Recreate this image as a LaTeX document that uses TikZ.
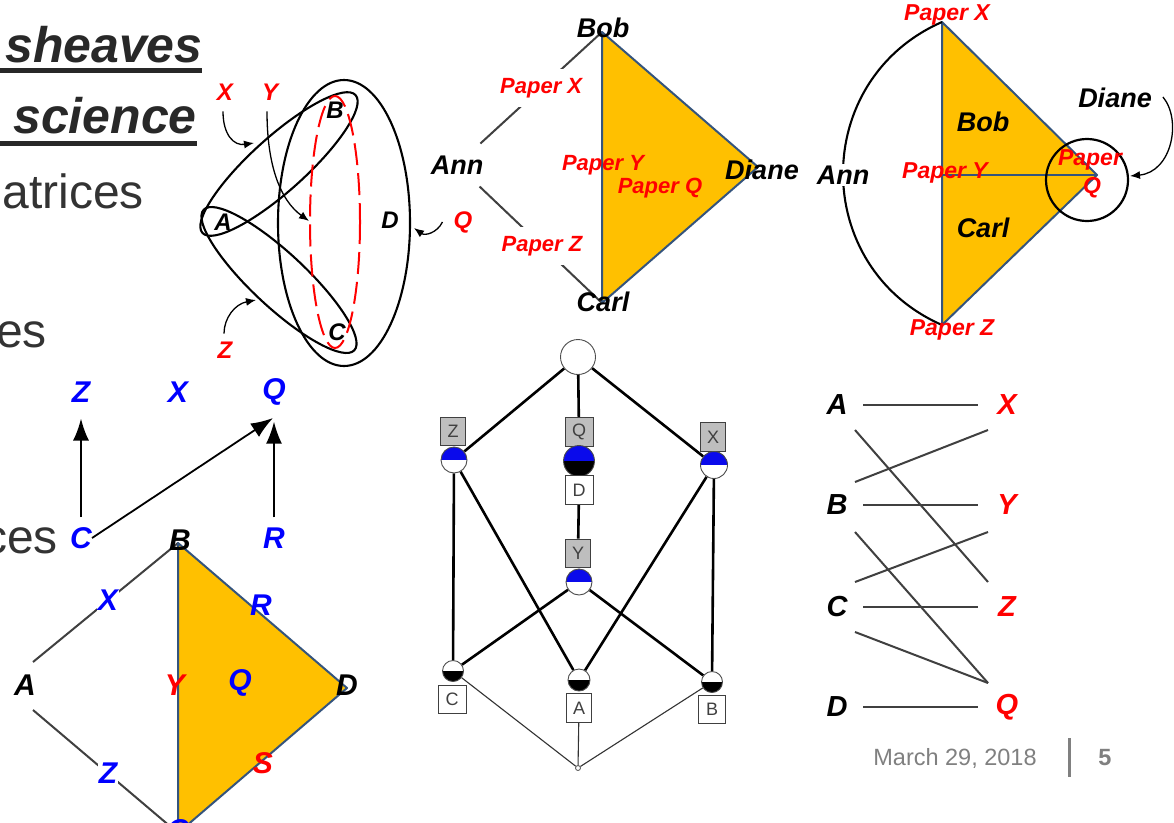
\documentclass[tikz,border=0pt]{standalone}
\usepackage{fontspec}
\setmainfont{Liberation Sans}
\usetikzlibrary{arrows.meta,calc}

\definecolor{inkgray}{RGB}{40,40,40}
\definecolor{bodygray}{RGB}{51,51,51}
\definecolor{orangefill}{RGB}{255,192,0}
\definecolor{edgeblue}{RGB}{52,84,125}
\definecolor{linegray}{RGB}{64,64,64}
\definecolor{pred}{RGB}{255,0,0}
\definecolor{pblue}{RGB}{0,0,255}
\definecolor{latblue}{RGB}{10,10,235}
\definecolor{boxgray}{RGB}{190,190,190}
\definecolor{footgray}{RGB}{128,128,128}

\newcommand{\fsz}[1]{\fontsize{#1}{#1}\selectfont}

\pgfdeclarelayer{background}
\pgfsetlayers{background,main}

\tikzset{
  titletext/.style={font=\fsz{50}\bfseries\itshape, text=inkgray, inner sep=0pt},
  bodytext/.style={font=\fsz{48}, text=bodygray, inner sep=0pt},
  hlab/.style={font=\fsz{24}\bfseries\itshape, inner sep=0pt},
  person/.style={font=\fsz{27}\bfseries\itshape, inner sep=0pt},
  paper/.style={font=\fsz{22}\bfseries\itshape, text=pred, inner sep=0pt},
  paperR/.style={font=\fsz{23}\bfseries\itshape, text=pred, inner sep=0pt},
  bluelab/.style={font=\fsz{30}\bfseries\itshape, text=pblue, inner sep=0pt},
  biplab/.style={font=\fsz{29}\bfseries\itshape, inner sep=0pt},
  hyp/.style={line width=2.1pt},
  tri/.style={fill=orangefill, draw=edgeblue, line width=2pt, line join=round},
  gline/.style={draw=linegray, line width=2pt},
  smallarrow/.style={-{Latex[length=10pt,width=8pt]}, line width=1.3pt},
  bigarrow/.style={-{Latex[length=22pt,width=16pt]}, line width=1.8pt},
  latbox/.style={draw=black!75, line width=0.9pt, minimum width=26pt, minimum height=28pt,
    inner sep=0pt, font=\fsz{18}, text=black!75},
  halfdisc/.style n args={3}{circle, inner sep=0pt, minimum size=#1, draw=black!70, line width=0.9pt,
    path picture={
      \fill[#2] (path picture bounding box.north west) rectangle (path picture bounding box.east);
      \fill[#3] (path picture bounding box.west) rectangle (path picture bounding box.south east);}},
  latedge/.style={line width=2.6pt},
  latthin/.style={line width=1.1pt, draw=black!80},
}

\begin{document}
\begin{tikzpicture}[x=1pt,y=-1pt]
\useasboundingbox (0,0) rectangle (1174,822);
\begin{pgfonlayer}{background}
  \fill[white] (0,0) rectangle (1174,822);
\end{pgfonlayer}
\clip (0,0) rectangle (1174,822);

% ---- slide text on the left ----
\node[titletext, anchor=base west] (tsheaves) at (5,62) {sheaves};
\draw[inkgray, line width=5pt] (0,70) -- (202,70);
\node[titletext, anchor=base west] (tscience) at (13,133) {science};
\draw[inkgray, line width=5pt] (0,143) -- (197,143);
\node[bodytext, anchor=base east] (tmat) at (144,208) {atrices};
\node[bodytext, anchor=base east] (tes) at (47,347) {es};
\node[bodytext, anchor=base east] (tces) at (58,553) {ces};

% ---- hypergraph ----
\draw[hyp] (344,223) ellipse[x radius=66, y radius=143];
\draw[hyp, rotate around={42:(279,164)}] (279,164) ellipse[x radius=103, y radius=27];
\draw[hyp, rotate around={-43:(279,280)}] (279,280) ellipse[x radius=103, y radius=27];
\draw[pred, line width=2pt, dash pattern=on 22pt off 8pt] (335,222) ellipse[x radius=25, y radius=126];
\node[hlab] (hA) at (223,222) {A};
\node[hlab] (hB) at (335,110) {B};
\node[hlab] (hC) at (337,332) {C};
\node[hlab] (hD) at (390,220) {D};
\node[hlab, text=pred] (hX) at (225,92) {X};
\node[hlab, text=pred] (hY) at (270,92) {Y};
\node[hlab, text=pred] (hZ) at (225,350) {Z};
\node[hlab, text=pred] (hQ) at (463,222) {Q};
\coordinate (hXtip) at (254,143);
\coordinate (hYtip) at (309,221);
\coordinate (hZtip) at (256,300);
\coordinate (hQtip) at (414,228);
\draw[smallarrow] (hX.south) ++(-2,11) .. controls (223,135) and (234,146) .. (hXtip);
\draw[smallarrow] (hY.south) ++(-3,11) .. controls (267,165) and (280,200) .. (hYtip);
\draw[smallarrow] (hZ.north) ++(-1,-8) .. controls (224,318) and (235,304) .. (hZtip);
\draw[smallarrow] (hQ.west) ++(-11,0) .. controls (437,233) and (425,236) .. (hQtip);

% ---- Ann / Bob / Carl / Diane complex ----
\coordinate (bobV) at (602,32);
\coordinate (carlV) at (602,303);
\coordinate (dianeV) at (758,167);
\node[person, inner ysep=12pt] (mAnn) at (457,165) {Ann};
\draw[gline] (mAnn) -- node[paper, fill=white, inner ysep=9pt, pos=0.5] (mPX) {Paper X} (bobV);
\draw[gline] (mAnn) -- node[paper, fill=white, inner ysep=9pt, pos=0.51] (mPZ) {Paper Z} (carlV);
\filldraw[tri] (bobV) -- (dianeV) -- (carlV) -- cycle;
\node[person] (mBob) at (603,28) {Bob};
\node[person] (mCarl) at (603,302) {Carl};
\node[person] (mDiane) at (762,170) {Diane};
\node[paper] (mPY) at (603,165) {Paper Y};
\node[paper] (mPQ) at (660,188) {Paper Q};

% ---- dual complex ----
\coordinate (dX) at (942,22);
\coordinate (dZ) at (942,325);
\coordinate (dQ) at (1097,175);
\coordinate (dY) at (942,175);
\filldraw[tri] (dX) -- (dQ) -- (dZ) -- cycle;
\draw[edgeblue, line width=2pt] (dY) -- (dQ);
% circular arc through Paper X, Ann and Paper Z
\draw[hyp] (dX) .. controls (810,80) and (810,267) .. (dZ);
\node[person, fill=white, inner sep=2pt] (dAnn) at (843,175) {Ann};
\draw[line width=2.2pt] (1087,180) circle[radius=41];
\node[paperR] (dPX) at (947,15) {Paper X};
\node[paperR] (dPY) at (945,173) {Paper Y};
\node[paperR] (dPZ) at (952,330) {Paper Z};
\node[person] (dBob) at (983,122) {Bob};
\node[person] (dCarl) at (983,228) {Carl};
\node[person] (dDiane) at (1115,98) {Diane};
\node[paperR] (dPQa) at (1090,160) {Paper};
\node[paperR] (dPQb) at (1092,188) {Q};
\coordinate (dTip) at (1130,176);
\draw[smallarrow] (dDiane.east) ++(11,-1) .. controls (1182,120) and (1172,172) .. (dTip);

% ---- arrows C, R to Z, Q ----
\node[bluelab] (lZ) at (81,392) {Z};
\node[bluelab] (lX) at (178,392) {X};
\node[bluelab] (lQ) at (274,392) {Q};
\node[bluelab] (lC) at (81,538) {C};
\node[bluelab] (lR) at (274,538) {R};
\coordinate (lQin) at (273,418);
\draw[bigarrow, shorten <=10pt, shorten >=16pt] (lC) -- (lZ);
\draw[bigarrow, shorten <=10pt, shorten >=16pt] (lR) -- (lQ);
\draw[bigarrow] (lC.east) -- (lQin);

% ---- lower complex ----
\coordinate (tB) at (178,543);
\coordinate (tD) at (347,688);
\coordinate (tC) at (178,833);
\coordinate (aUp) at (33,662);
\coordinate (aDn) at (33,710);
\draw[gline] (aUp) -- node[bluelab, fill=white, inner sep=1pt, pos=0.517] (eX) {X} (tB);
\draw[gline] (aDn) -- node[bluelab, fill=white, inner sep=1pt, pos=0.517] (eZ) {Z} (tC);
\filldraw[tri] (tB) -- (tD) -- (tC) -- cycle;
\node[bluelab, text=black] (vB) at (180,540) {B};
\node[bluelab, text=black] (vA) at (25,685) {A};
\node[bluelab, text=black] (vD) at (347,685) {D};
\node[bluelab] (vC) at (178,830) {C};
\node[bluelab, text=pred] (eY) at (175,685) {Y};
\node[bluelab] (fQ) at (240,683) {Q};
\node[bluelab] (eR) at (261,605) {R};
\node[bluelab, text=pred] (eS) at (263,763) {S};

% ---- concept lattice ----
\node[circle, draw=black!70, line width=0.9pt, fill=white, minimum size=35pt, inner sep=0pt] (kTop) at (578,357) {};
\node[latbox, fill=boxgray, minimum width=25pt] (kZb) at (453,431) {Z};
\node[halfdisc={26pt}{latblue}{white}] (kZ) at (454,460) {};
\node[latbox, fill=boxgray, minimum width=28pt, minimum height=29pt] (kQb) at (579,432) {Q};
\node[halfdisc={31pt}{latblue}{black}] (kQ) at (579,461) {};
\node[latbox, fill=white, minimum width=28pt, minimum height=29pt] (kDb) at (579,490) {D};
\node[latbox, fill=boxgray, minimum width=25pt, minimum height=29pt] (kXb) at (713,437) {X};
\node[halfdisc={27pt}{latblue}{white}] (kX) at (714,465) {};
\node[latbox, fill=boxgray, minimum width=25pt] (kYb) at (578,553) {Y};
\node[halfdisc={26pt}{latblue}{white}] (kY) at (579,582) {};
\node[halfdisc={21pt}{white}{black}] (kC) at (453,671) {};
\node[latbox, fill=white, minimum width=28pt] (kCb) at (452,699) {C};
\node[halfdisc={22pt}{white}{black}] (kA) at (579,680) {};
\node[latbox, fill=white, minimum width=25pt, minimum height=29pt] (kAb) at (579,708) {A};
\node[halfdisc={21pt}{white}{black}] (kB) at (712,682) {};
\node[latbox, fill=white, minimum width=27pt] (kBb) at (712,709) {B};
\node[circle, draw=black!70, line width=0.8pt, fill=white, minimum size=5pt, inner sep=0pt] (kBot) at (578,768) {};
\begin{pgfonlayer}{background}
  \draw[latedge] (kTop) -- (kZ);
  \draw[latedge] (kTop) -- (kQb);
  \draw[latedge] (kTop) -- (kX);
  \draw[latedge] (kDb) -- (kYb);
  \draw[latedge] (kZ) -- (kC);
  \draw[latedge] (kZ) -- (kA);
  \draw[latedge] (kX) -- (kA);
  \draw[latedge] (kX) -- (kB);
  \draw[latedge] (kY) -- (kC);
  \draw[latedge] (kY) -- (kB);
  \draw[latthin] (kC) -- (kBot);
  \draw[latthin] (kAb) -- (kBot);
  \draw[latthin] (kB) -- (kBot);
\end{pgfonlayer}

% ---- bipartite incidence ----
\node[biplab] (pA) at (837,405) {A};
\node[biplab] (pB) at (837,505) {B};
\node[biplab] (pC) at (837,607) {C};
\node[biplab] (pD) at (837,707) {D};
\node[biplab, text=pred] (pX) at (1007,405) {X};
\node[biplab, text=pred] (pY) at (1007,505) {Y};
\node[biplab, text=pred] (pZ) at (1007,607) {Z};
\node[biplab, text=pred] (pQ) at (1007,707) {Q};
\draw[gline] ([shift={(26,0)}]pA.center) -- ([shift={(-29,0)}]pX.center);
\draw[gline] ([shift={(26,0)}]pB.center) -- ([shift={(-29,0)}]pY.center);
\draw[gline] ([shift={(26,0)}]pC.center) -- ([shift={(-29,0)}]pZ.center);
\draw[gline] ([shift={(26,0)}]pD.center) -- ([shift={(-29,0)}]pQ.center);
\draw[gline] ([shift={(18,25)}]pA.center) -- ([shift={(-19,-25)}]pZ.center);
\draw[gline] ([shift={(18,-23)}]pB.center) -- ([shift={(-19,25)}]pX.center);
\draw[gline] ([shift={(18,27)}]pB.center) -- ([shift={(-19,-24)}]pQ.center);
\draw[gline] ([shift={(18,-25)}]pC.center) -- ([shift={(-19,27)}]pY.center);
\draw[gline] ([shift={(18,25)}]pC.center) -- ([shift={(-19,-24)}]pQ.center);

% ---- footer ----
\node[font=\fsz{23.5}, text=footgray, inner sep=0pt] (fdate) at (955,758) {March 29, 2018};
\draw[footgray, line width=3pt] (1069,738) -- (1069,777);
\node[font=\fsz{23.5}\bfseries, text=footgray, inner sep=0pt] (fpage) at (1105,758) {5};
\end{tikzpicture}
\end{document}
